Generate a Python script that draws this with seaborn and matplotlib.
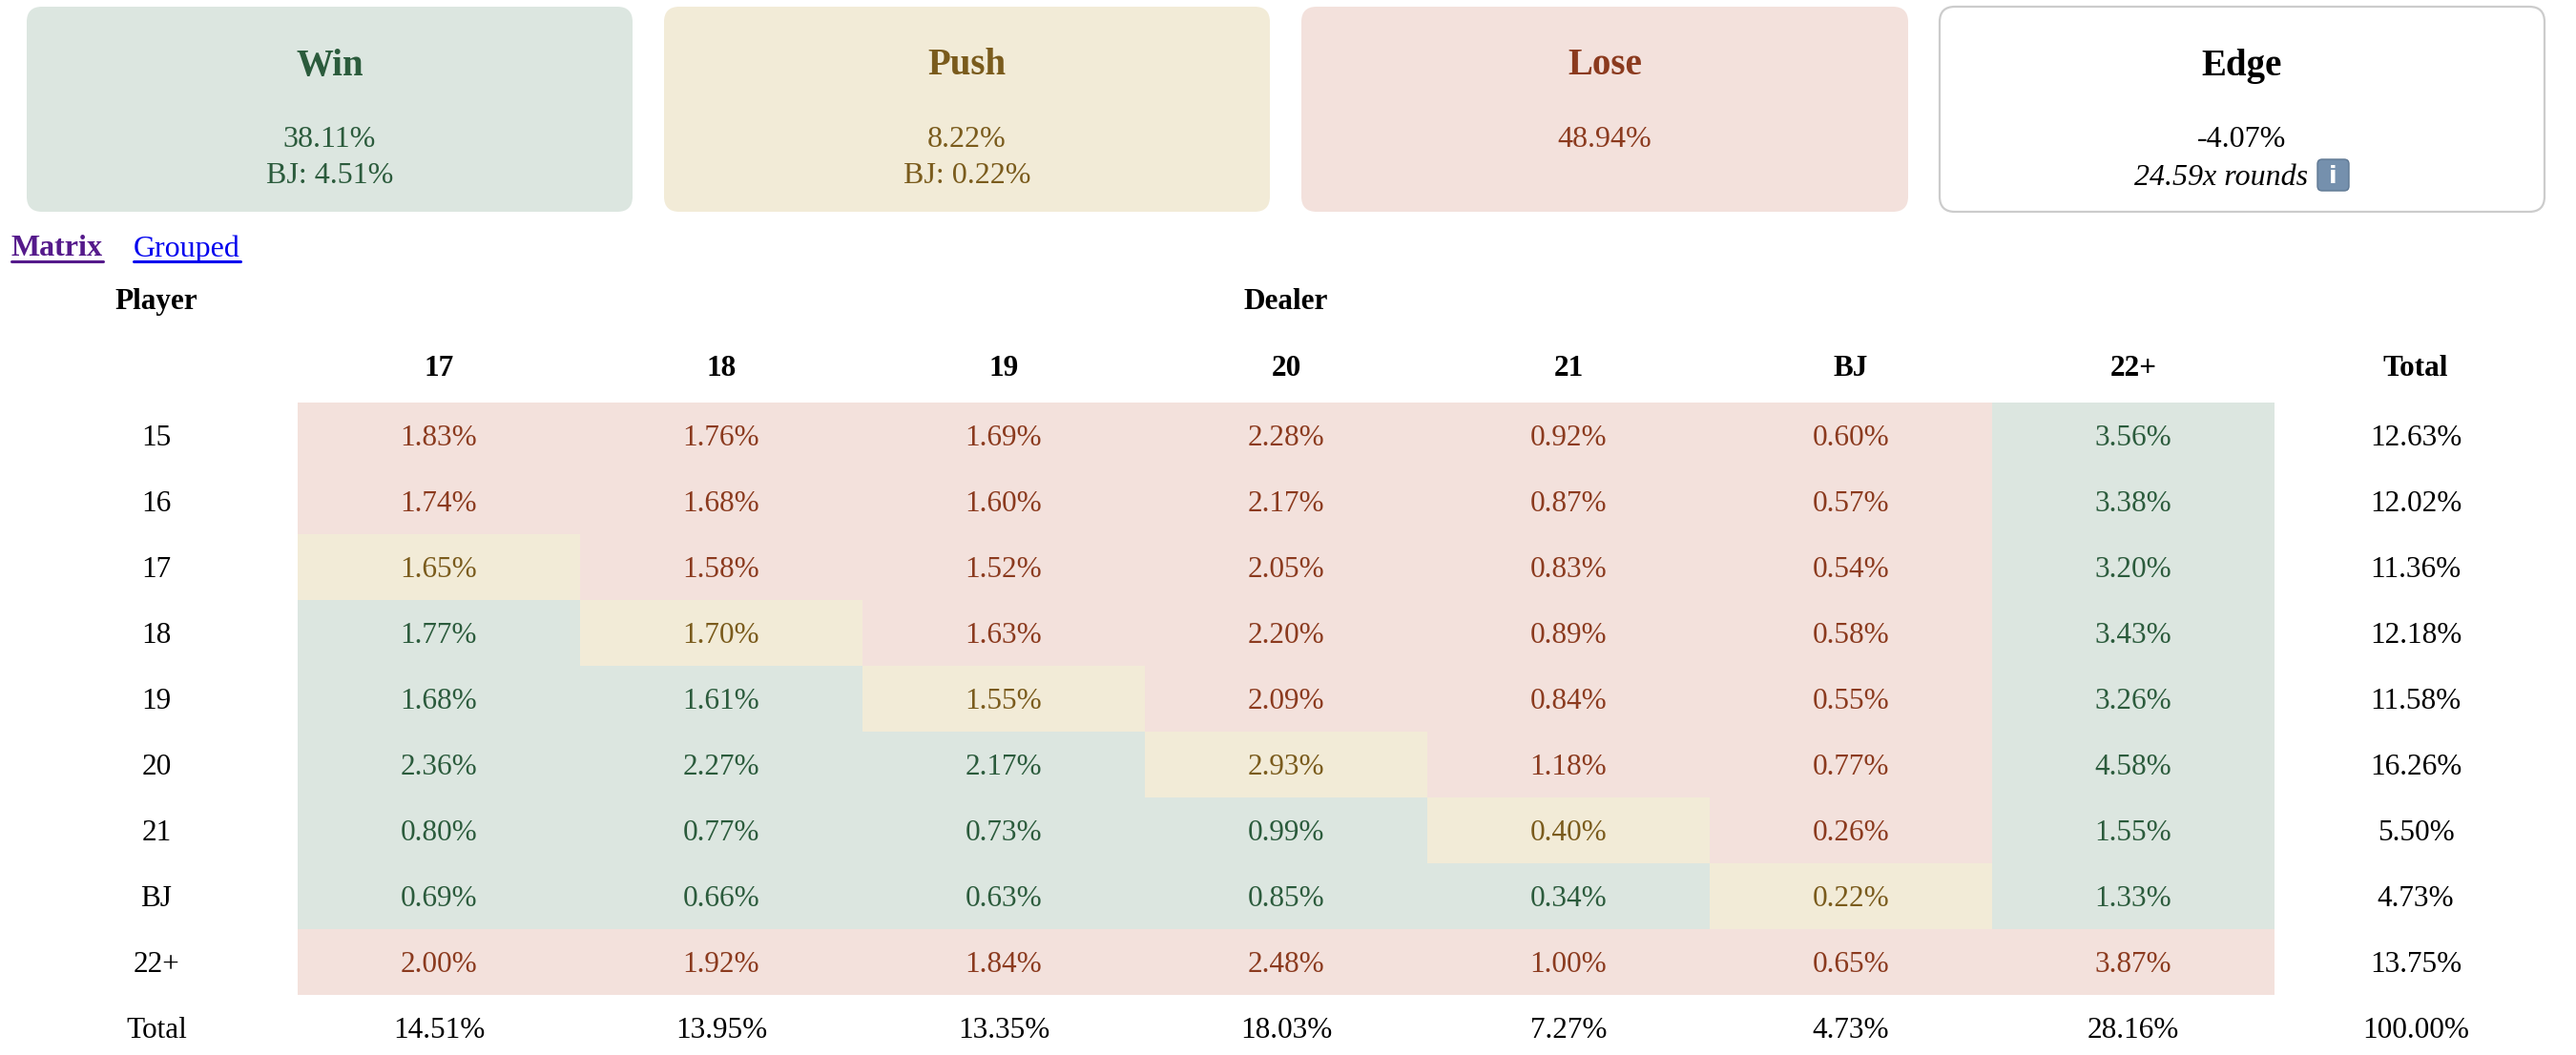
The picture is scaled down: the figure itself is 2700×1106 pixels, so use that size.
import numpy as np
import pandas as pd
import seaborn as sns
import matplotlib.pyplot as plt
from matplotlib.colors import ListedColormap
from matplotlib.patches import FancyBboxPatch

# ---- data ----
player_labels = ["15", "16", "17", "18", "19", "20", "21", "BJ", "22+"]
dealer_labels = ["17", "18", "19", "20", "21", "BJ", "22+"]

cell_pct = [
    [1.83, 1.76, 1.69, 2.28, 0.92, 0.60, 3.56],
    [1.74, 1.68, 1.60, 2.17, 0.87, 0.57, 3.38],
    [1.65, 1.58, 1.52, 2.05, 0.83, 0.54, 3.20],
    [1.77, 1.70, 1.63, 2.20, 0.89, 0.58, 3.43],
    [1.68, 1.61, 1.55, 2.09, 0.84, 0.55, 3.26],
    [2.36, 2.27, 2.17, 2.93, 1.18, 0.77, 4.58],
    [0.80, 0.77, 0.73, 0.99, 0.40, 0.26, 1.55],
    [0.69, 0.66, 0.63, 0.85, 0.34, 0.22, 1.33],
    [2.00, 1.92, 1.84, 2.48, 1.00, 0.65, 3.87],
]
# W = win, P = push, L = lose for each cell
cell_outcome = [
    "LLLLLLW",
    "LLLLLLW",
    "PLLLLLW",
    "WPLLLLW",
    "WWPLLLW",
    "WWWPLLW",
    "WWWWPLW",
    "WWWWWPW",
    "LLLLLLL",
]
row_totals = [12.63, 12.02, 11.36, 12.18, 11.58, 16.26, 5.50, 4.73, 13.75]
col_totals = [14.51, 13.95, 13.35, 18.03, 7.27, 4.73, 28.16]
grand_total = 100.00

summary_titles = ["Win", "Push", "Lose", "Edge"]
summary_values = ["38.11%", "8.22%", "48.94%", "-4.07%"]
summary_extra = ["BJ: 4.51%", "BJ: 0.22%", "", "24.59x rounds"]

# ---- styling ----
WIN_BG, WIN_FG = "#dce6e0", "#2b5b3c"
PUSH_BG, PUSH_FG = "#f2ebd7", "#7a5b1c"
LOSE_BG, LOSE_FG = "#f3e1dc", "#8b3a1e"
fg = {"W": WIN_FG, "P": PUSH_FG, "L": LOSE_FG}
code = {"W": 0, "P": 1, "L": 2}
FS = 22.5  # table text size

sns.set_theme(style="white")
plt.rcParams["font.family"] = ["Liberation Serif", "DejaVu Serif"]

W, H = 2700, 1106
fig = plt.figure(figsize=(W / 100, H / 100), dpi=100)
fig.patch.set_facecolor("white")

# overlay axes in pixel coordinates for the cards and headers
top = fig.add_axes([0, 0, 1, 1])
top.set_xlim(0, W)
top.set_ylim(H, 0)
top.axis("off")

card_x = [(28, 663), (696, 1331), (1364, 2000), (2033, 2667)]
card_bg = [WIN_BG, PUSH_BG, LOSE_BG, "white"]
card_fg = [WIN_FG, PUSH_FG, LOSE_FG, "black"]
for i, (x0, x1) in enumerate(card_x):
    edge = "#cccccc" if card_bg[i] == "white" else "none"
    top.add_patch(FancyBboxPatch((x0, 7), x1 - x0, 215,
                                 boxstyle="round,pad=0,rounding_size=16",
                                 facecolor=card_bg[i], edgecolor=edge, linewidth=1.6))
    cx = (x0 + x1) / 2
    top.text(cx, 69, summary_titles[i], ha="center", va="center",
             fontsize=28, fontweight="bold", color=card_fg[i])
    top.text(cx, 147, summary_values[i], ha="center", va="center",
             fontsize=23, color=card_fg[i])
    if summary_extra[i]:
        if summary_titles[i] == "Edge":
            top.text(cx - 22, 186, summary_extra[i], ha="center", va="center",
                     fontsize=23, style="italic", color="black")
            top.add_patch(FancyBboxPatch((2429, 167), 33, 33,
                                         boxstyle="round,pad=0,rounding_size=5",
                                         facecolor="#7590ad", edgecolor="#5f7893", linewidth=1))
            top.text(2445.5, 185, "i", ha="center", va="center", fontsize=18,
                     color="white", family="DejaVu Sans", fontweight="bold")
        else:
            top.text(cx, 184, summary_extra[i], ha="center", va="center",
                     fontsize=23, color=card_fg[i])

# view links
top.text(12, 261, "Matrix", ha="left", va="center", fontsize=23,
         fontweight="bold", color="#551a8b")
top.plot([12, 108], [274, 274], color="#551a8b", lw=2.2)
top.text(140, 261, "Grouped", ha="left", va="center", fontsize=23, color="#0000ee")
top.plot([140, 252], [274, 274], color="#0000ee", lw=2.2)

# ---- matrix as a seaborn heatmap ----
codes = pd.DataFrame([[code[c] for c in row] for row in cell_outcome],
                     index=player_labels, columns=dealer_labels)
labels = np.array([[f"{v:.2f}%" for v in row] for row in cell_pct])

x0, x1, y0, y1 = 312, 2384, 422, 1043
ax = fig.add_axes([x0 / W, 1 - y1 / H, (x1 - x0) / W, (y1 - y0) / H])
cmap = ListedColormap([WIN_BG, PUSH_BG, LOSE_BG])
sns.heatmap(codes, ax=ax, cmap=cmap, vmin=-0.5, vmax=2.5, cbar=False,
            annot=labels, fmt="", linewidths=0,
            annot_kws={"fontsize": FS, "family": "Liberation Serif"})
dy = 0.05  # nudge text down a little, like html baseline
for t, oc in zip(ax.texts, "".join(cell_outcome)):
    t.set_color(fg[oc])
    px, py = t.get_position()
    t.set_position((px, py + dy))
ax.set_xticks([])
ax.set_yticks([])
ax.set_xlabel("")
ax.set_ylabel("")
for s in ax.spines.values():
    s.set_visible(False)

txt = dict(ha="center", va="center", fontsize=FS, color="black")
ax.text(-0.5, -1.58 + dy, "Player", fontweight="bold", **txt)
ax.text(3.5, -1.58 + dy, "Dealer", fontweight="bold", **txt)
for j, d in enumerate(dealer_labels + ["Total"]):
    ax.text(j + 0.5, -0.57 + dy, d, fontweight="bold", **txt)
for i, p in enumerate(player_labels):
    ax.text(-0.5, i + 0.5 + dy, p, **txt)
    ax.text(7.5, i + 0.5 + dy, f"{row_totals[i]:.2f}%", **txt)
ax.text(-0.5, 9.5 + dy, "Total", **txt)
for j, v in enumerate(col_totals):
    ax.text(j + 0.5, 9.5 + dy, f"{v:.2f}%", **txt)
ax.text(7.5, 9.5 + dy, f"{grand_total:.2f}%", **txt)

fig.savefig("out.png", dpi=100, facecolor="white")
